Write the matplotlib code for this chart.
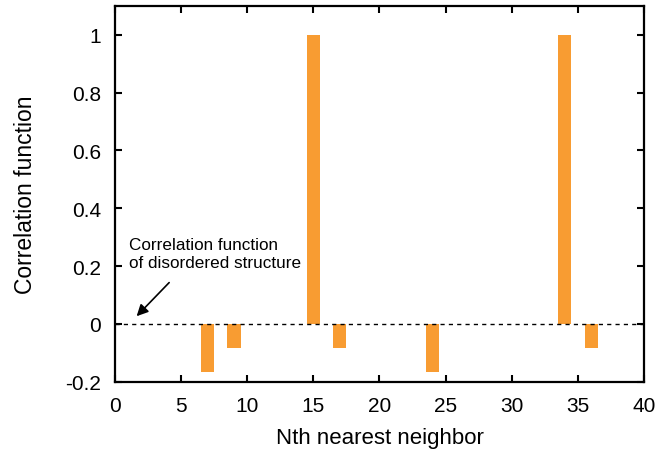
import matplotlib.pyplot as plt
import numpy as np

plt.rcParams['font.family'] = ['Liberation Sans', 'DejaVu Sans']
plt.rcParams['axes.unicode_minus'] = False

neighbor = [7, 9, 15, 17, 24, 34, 36]
corr = [-1/6, -1/12, 1.0, -1/12, -1/6, 1.0, -1/12]
xticks = [0, 5, 10, 15, 20, 25, 30, 35, 40]
yticks = [-0.2, 0, 0.2, 0.4, 0.6, 0.8, 1]

fig = plt.figure(figsize=(6.6, 4.52), dpi=100)
ax = fig.add_axes([0.174, 0.153, 0.802, 0.832])

ax.bar(neighbor, corr, width=1.0, color='#F89C32', align='center')
ax.axhline(0, color='black', lw=1.0, ls=(0, (3, 3)))

ax.set_xlim(0, 40)
ax.set_ylim(-0.2, 1.1)
ax.set_xticks(xticks)
ax.set_yticks(yticks)
ax.set_yticklabels(['%g' % v for v in yticks])
ax.tick_params(direction='in', top=True, right=True, length=5, width=1.5,
               labelsize=15, colors='black')
ax.tick_params(axis='x', pad=10)
ax.tick_params(axis='y', pad=10)
for s in ax.spines.values():
    s.set_linewidth(1.6)

ax.set_xlabel('Nth nearest neighbor', fontsize=16, labelpad=8.5)
ax.set_ylabel('Correlation function', fontsize=16.5, labelpad=20)

ax.annotate('', xy=(1.5, 0.02), xytext=(4.25, 0.15),
            arrowprops=dict(arrowstyle='-|>', color='black', lw=1.2, mutation_scale=17))
ax.text(1.1, 0.198, 'Correlation function\nof disordered structure', fontsize=12.3,
        ha='left', va='baseline', linespacing=1.2)

fig.savefig('out.png', dpi=100)
